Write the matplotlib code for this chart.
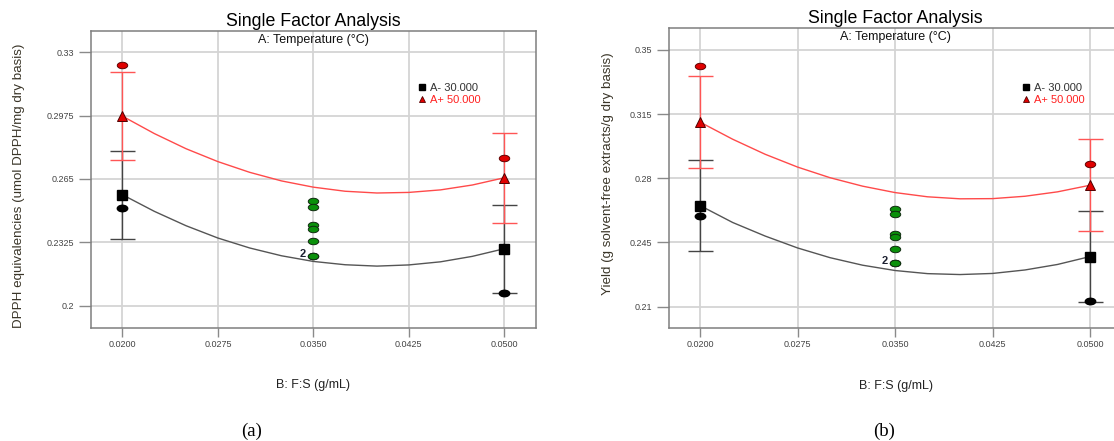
import numpy as np
import matplotlib
matplotlib.use("Agg")
import matplotlib.pyplot as plt
from matplotlib.path import Path
from matplotlib.lines import Line2D

plt.rcParams['font.family'] = ['Liberation Sans', 'DejaVu Sans']

# B: F:S levels (g/mL)
fs_ticks = [0.0200, 0.0275, 0.0350, 0.0425, 0.0500]
fs_ends = [0.02, 0.05]
fs_center = 0.035
curve_x = [0.02, 0.0225, 0.025, 0.0275, 0.03, 0.0325, 0.035,
           0.0375, 0.04, 0.0425, 0.045, 0.0475, 0.05]

# (a) DPPH equivalencies
dpph_low_curve = [0.2569, 0.2484, 0.2410, 0.2347, 0.2296, 0.2256, 0.2227,
                  0.2210, 0.2203, 0.2209, 0.2225, 0.2253, 0.2292]
dpph_high_curve = [0.2972, 0.2883, 0.2805, 0.2739, 0.2684, 0.2640, 0.2608,
                   0.2587, 0.2578, 0.2581, 0.2594, 0.2619, 0.2656]
dpph_low_mean = [0.2569, 0.2292]
dpph_high_mean = [0.2972, 0.2656]
dpph_low_err = [0.0227, 0.0227]
dpph_high_err = [0.0227, 0.0230]
dpph_low_obs = [0.2501, 0.2063]
dpph_high_obs = [0.3235, 0.2755]
dpph_center_obs = [0.2535, 0.2506, 0.2415, 0.2395, 0.2330, 0.2257, 0.2257]
dpph_yticks = [0.2, 0.2325, 0.265, 0.2975, 0.33]
dpph_ylabels = ["0.2", "0.2325", "0.265", "0.2975", "0.33"]

# (b) Yield
yield_low_curve = [0.2651, 0.2559, 0.2485, 0.2420, 0.2367, 0.2326, 0.2297,
                   0.2280, 0.2275, 0.2281, 0.2300, 0.2330, 0.2373]
yield_high_curve = [0.3106, 0.3013, 0.2931, 0.2861, 0.2803, 0.2757, 0.2722,
                    0.2699, 0.2688, 0.2689, 0.2702, 0.2726, 0.2762]
yield_low_mean = [0.2651, 0.2373]
yield_high_mean = [0.3106, 0.2762]
yield_low_err = [0.0248, 0.0247]
yield_high_err = [0.0249, 0.0250]
yield_low_obs = [0.2595, 0.2130]
yield_high_obs = [0.3413, 0.2877]
yield_center_obs = [0.2631, 0.2604, 0.2495, 0.2479, 0.2413, 0.2340, 0.2340]
yield_yticks = [0.21, 0.245, 0.28, 0.315, 0.35]
yield_ylabels = ["0.21", "0.245", "0.28", "0.315", "0.35"]

legend_labels = ["A- 30.000", "A+ 50.000"]

circ = Path.unit_circle()
ellipse = Path(circ.vertices * np.array([1.0, 0.62]), circ.codes)

fig = plt.figure(figsize=(11.14, 4.41), dpi=100)


def panel(rect, xlim, ylim, yticks, ylabels, ylabel, low_curve, high_curve,
          low_mean, high_mean, low_err, high_err, low_obs, high_obs, center_obs,
          title_y, sub_y, ylab_pos, leg_pos):
    ax = fig.add_axes(rect)
    ax.set_xlim(*xlim)
    ax.set_ylim(*ylim)
    ax.set_xticks(fs_ticks)
    ax.set_xticklabels(["%.4f" % v for v in fs_ticks])
    ax.set_yticks(yticks)
    ax.set_yticklabels(ylabels)
    ax.grid(True, color='#d4d4d4', linewidth=1.3, zorder=0)
    ax.set_axisbelow(True)
    for s in ax.spines.values():
        s.set_color('#7f7f7f')
        s.set_linewidth(1.1)
    ax.tick_params(axis='y', direction='out', length=8.5, width=1, color='#8a8a8a',
                   labelsize=6.5, labelcolor='#444444', pad=3.5)
    ax.tick_params(axis='x', direction='out', length=6.5, width=1, color='#8a8a8a',
                   labelsize=6.5, labelcolor='#444444', pad=2)

    # model curves
    ax.plot(curve_x, low_curve, color='#555555', lw=1.0, zorder=2)
    ax.plot(curve_x, high_curve, color='#ff4a4a', lw=1.0, zorder=2)

    # error bars
    ax.errorbar(fs_ends, low_mean, yerr=low_err, fmt='none', ecolor='#444444',
                elinewidth=1.0, capsize=9, capthick=1.0, zorder=3)
    ax.errorbar(fs_ends, high_mean, yerr=high_err, fmt='none', ecolor='#ff5555',
                elinewidth=1.0, capsize=9, capthick=1.0, zorder=3)

    # observed points
    ax.plot(fs_ends, low_obs, linestyle='none', marker=ellipse, markersize=7.5,
            markerfacecolor='black', markeredgecolor='black', zorder=4)
    ax.plot(fs_ends, high_obs, linestyle='none', marker=ellipse, markersize=7.5,
            markerfacecolor='#e00000', markeredgecolor='#600000', markeredgewidth=0.7, zorder=4)
    ax.plot([fs_center] * len(center_obs), center_obs, linestyle='none', marker=ellipse,
            markersize=7.5, markerfacecolor='#0a900a', markeredgecolor='#0f2a0f',
            markeredgewidth=0.7, zorder=4)
    ax.annotate("2", xy=(fs_center, min(center_obs)), xytext=(-5, 1),
                textcoords='offset points', ha='right', va='center',
                fontsize=8, fontweight='bold', color='#1c2030')

    # predicted means
    ax.plot(fs_ends, low_mean, linestyle='none', marker='s', markersize=6.5,
            color='black', zorder=5)
    ax.plot(fs_ends, high_mean, linestyle='none', marker='^', markersize=7,
            markerfacecolor='#e00000', markeredgecolor='#500000', markeredgewidth=0.7, zorder=5)

    ax.text(0.5, title_y, "Single Factor Analysis", transform=ax.transAxes,
            ha='center', va='center', fontsize=12.8, color='black')
    ax.text(0.5, sub_y, "A: Temperature (°C)", transform=ax.transAxes,
            ha='center', va='center', fontsize=9, color='#111111')
    ax.text(ylab_pos[0], ylab_pos[1], ylabel, transform=ax.transAxes, rotation=90,
            ha='center', va='center', fontsize=9.6, color='#3a3528')
    ax.text(0.5, -0.192, "B: F:S (g/mL)", transform=ax.transAxes,
            ha='center', va='center', fontsize=9, color='#222222')

    handles = [Line2D([], [], linestyle='none', marker='s', markersize=4.5, color='black'),
               Line2D([], [], linestyle='none', marker='^', markersize=5,
                      markerfacecolor='#e00000', markeredgecolor='#500000', markeredgewidth=0.6)]
    leg = ax.legend(handles, legend_labels, loc='upper left', bbox_to_anchor=leg_pos,
                    frameon=False, fontsize=8, handlelength=0.8, handletextpad=0.3,
                    labelspacing=0.15, borderpad=0, borderaxespad=0)
    leg.get_texts()[0].set_color('#333333')
    leg.get_texts()[1].set_color('#ff2020')
    return ax


panel([0.0814, 0.2569, 0.3997, 0.6728], (0.0175, 0.0525), (0.1887, 0.3409),
      dpph_yticks, dpph_ylabels, "DPPH equivalencies (umol DPPH/mg dry basis)",
      dpph_low_curve, dpph_high_curve, dpph_low_mean, dpph_high_mean,
      dpph_low_err, dpph_high_err, dpph_low_obs, dpph_high_obs, dpph_center_obs,
      1.031, 0.970, (-0.1617, 0.48), (0.734, 0.825))

panel([0.6005, 0.2556, 0.4071, 0.6803], (0.0176, 0.0525), (0.1982, 0.3618),
      yield_yticks, yield_ylabels, "Yield (g solvent-free extracts/g dry basis)",
      yield_low_curve, yield_high_curve, yield_low_mean, yield_high_mean,
      yield_low_err, yield_high_err, yield_low_obs, yield_high_obs, yield_center_obs,
      1.033, 0.972, (-0.1345, 0.514), (0.778, 0.818))

fig.text(0.226, 0.021, "(a)", ha='center', va='center', fontsize=13.5,
         family=['Liberation Serif', 'DejaVu Serif'])
fig.text(0.794, 0.021, "(b)", ha='center', va='center', fontsize=13.5,
         family=['Liberation Serif', 'DejaVu Serif'])

fig.savefig("out.png", dpi=100)
